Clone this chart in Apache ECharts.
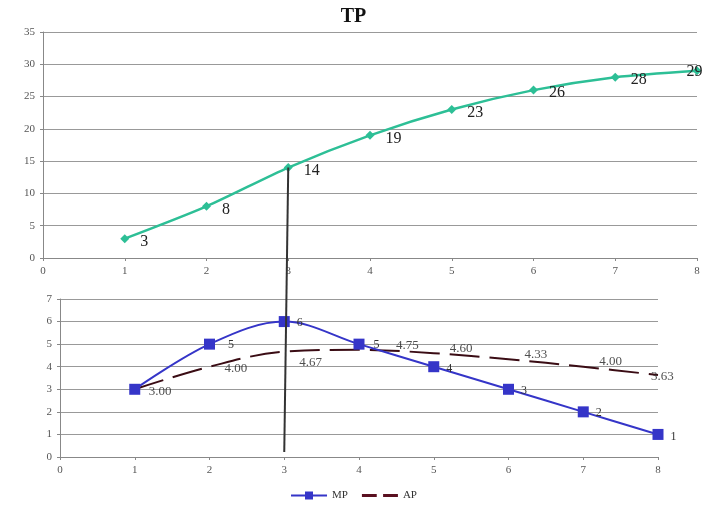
<!DOCTYPE html>
<html><head><meta charset="utf-8">
<script src="https://cdn.jsdelivr.net/npm/echarts@6/dist/echarts.min.js"></script>
<style>html,body{margin:0;padding:0;background:#fff}#c{width:707px;height:508px}</style>
</head><body><div id="c"></div>
<script>
// ---- data ----
const xValues = [1, 2, 3, 4, 5, 6, 7, 8];
const tpValues = [3, 8, 14, 19, 23, 26, 28, 29];
const mpValues = [3, 5, 6, 5, 4, 3, 2, 1];
const apValues = [3.00, 4.00, 4.67, 4.75, 4.60, 4.33, 4.00, 3.63];
const chartTitle = 'TP';
const seriesNames = ['TP', 'MP', 'AP'];
const markX = 3; // vertical guide from TP point down to bottom axis

// ---- label placement (style) ----
const tpLabelOffsets = [[6,3],[6,3],[6,3],[6,3],[6,3],[6,3],[6,3],[-20,1]];
const mpLabelOffsets = [[0,0],[8,1],[2,1],[4,1],[2,2],[2,2],[2,1],[2,2]];
const mpLabelShow = [false, true, true, true, true, true, true, true];
const apLabelOffsets = [[9,2],[10,2],[10,11],[32,-4],[11,-5],[11,-5],[11,-5],[-12,2]];

const serif = '"Liberation Serif","DejaVu Serif",serif';
const chart = echarts.init(document.getElementById('c'));

const axisCommon = {
  axisLine: {show: true, lineStyle: {color: '#888', width: 1}},
  axisTick: {show: true, length: 3, lineStyle: {color: '#888'}},
  axisLabel: {fontFamily: serif, fontSize: 11, color: '#555'},
};

const option = {
  animation: false,
  backgroundColor: '#fff',
  title: {text: chartTitle, left: 'center', top: 2, textStyle: {fontFamily: serif, fontSize: 20, fontWeight: 'bold', color: '#111'}},
  legend: {
    data: ['MP', {name: 'AP', icon: 'path://M0,0 L14,0 L14,3 L0,3 Z M20,0 L34,0 L34,3 L20,3 Z', itemStyle: {color: '#5a1020'}}],
    bottom: 2, left: 'center', itemWidth: 36, itemHeight: 10, itemGap: 14,
    textStyle: {fontFamily: serif, fontSize: 11, color: '#333'}
  },
  grid: [
    {left: 43, right: 10, top: 32, bottom: 250},
    {left: 60, right: 49, top: 299, bottom: 51}
  ],
  xAxis: [
    Object.assign({type: 'value', gridIndex: 0, min: 0, max: 8, interval: 1, splitLine: {show: false}}, axisCommon),
    Object.assign({type: 'value', gridIndex: 1, min: 0, max: 8, interval: 1, splitLine: {show: false}}, axisCommon)
  ],
  yAxis: [
    Object.assign({type: 'value', gridIndex: 0, min: 0, max: 35, interval: 5,
      splitLine: {show: true, lineStyle: {color: '#999', width: 1}}}, axisCommon),
    Object.assign({type: 'value', gridIndex: 1, min: 0, max: 7, interval: 1,
      splitLine: {show: true, lineStyle: {color: '#999', width: 1}}}, axisCommon)
  ],
  series: [
    {
      name: seriesNames[0], type: 'line', xAxisIndex: 0, yAxisIndex: 0, smooth: 0.25,
      data: xValues.map((x, i) => ({value: [x, tpValues[i]], label: {offset: tpLabelOffsets[i]}})),
      symbol: 'diamond', symbolSize: 9,
      lineStyle: {color: '#2dbf96', width: 2.5}, itemStyle: {color: '#2dbf96'},
      label: {show: true, position: 'right', fontFamily: serif, fontSize: 16, color: '#222',
        formatter: p => p.value[1]}
    },
    {
      name: seriesNames[1], type: 'line', xAxisIndex: 1, yAxisIndex: 1, smooth: 0.35,
      data: xValues.map((x, i) => ({value: [x, mpValues[i]], label: {show: mpLabelShow[i], offset: mpLabelOffsets[i]}})),
      symbol: 'rect', symbolSize: 11,
      lineStyle: {color: '#3535c8', width: 2}, itemStyle: {color: '#3535c8'},
      label: {show: true, position: 'right', fontFamily: serif, fontSize: 12, color: '#333',
        formatter: p => p.value[1]},
      z: 3
    },
    {
      name: seriesNames[2], type: 'line', xAxisIndex: 1, yAxisIndex: 1, smooth: 0.35,
      data: xValues.map((x, i) => [x, apValues[i]]),
      symbol: 'none',
      lineStyle: {color: '#3a0c14', width: 2, type: [30, 10]}, itemStyle: {color: '#3a0c14'},
      z: 2
    },
    {
      name: 'AP-labels', type: 'scatter', xAxisIndex: 1, yAxisIndex: 1, symbolSize: 0,
      data: xValues.map((x, i) => ({value: [x, apValues[i]], label: {offset: apLabelOffsets[i]}})),
      label: {show: true, position: 'right', fontFamily: serif, fontSize: 13, color: '#222',
        formatter: p => p.value[1].toFixed(2)},
      silent: true, z: 4
    }
  ]
};
chart.setOption(option);

const pTop = chart.convertToPixel({gridIndex: 0}, [markX, tpValues[xValues.indexOf(markX)]]);
const pBot = chart.convertToPixel({gridIndex: 1}, [markX, 0]);
chart.setOption({
  graphic: [{
    type: 'line', z: 10,
    shape: {x1: pTop[0], y1: pTop[1], x2: pBot[0], y2: pBot[1] - 5},
    style: {stroke: '#333', lineWidth: 2}
  }]
});
</script>
</body></html>
